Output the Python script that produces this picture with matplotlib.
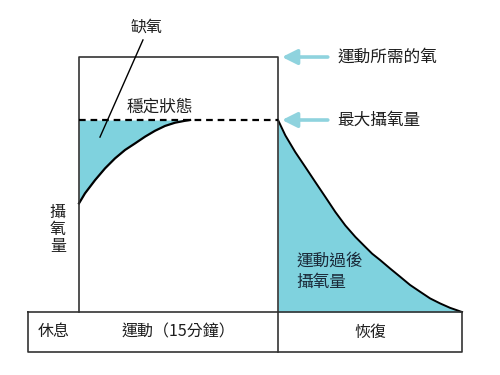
import numpy as np
import matplotlib
matplotlib.use("Agg")
import matplotlib.pyplot as plt

plt.rcParams['font.family'] = ['Noto Sans CJK TC', 'DejaVu Sans']

# time in minutes, oxygen uptake in % of max uptake
rise_t = [0.00, 0.45, 1.21, 1.96, 2.71, 3.47, 4.22, 4.97, 5.73, 6.48, 7.24, 7.99, 8.37]
rise_v = [56.6, 61.8, 68.7, 74.8, 80.0, 84.4, 87.8, 91.3, 94.4, 96.9, 98.6, 99.6, 100.0]

rec_t = [15.00, 15.55, 16.30, 17.06, 17.81, 18.57, 19.32, 20.07, 20.83, 21.58, 22.09,
         22.69, 23.44, 24.20, 24.95, 25.70, 26.46, 27.21, 27.96, 28.87]
rec_v = [100.0, 92.0, 83.3, 75.5, 67.7, 59.9, 52.1, 45.1, 39.1, 33.9, 30.4,
         27.1, 22.7, 18.4, 14.1, 10.6, 7.1, 4.5, 2.2, 0.0]

rest_start = -3.84
ex_start, ex_end = 0.0, 15.0
rec_end = 28.87
vo2max = 100.0
demand = 132.8
row_bottom = -20.8

phase_labels = ['休息', '運動（15分鐘）', '恢復']

fill_c = '#7fd2de'
arrow_c = '#8fd3de'
line_c = '#333333'
text_c = '#1e1e1e'

fig = plt.figure(figsize=(5, 3.75), dpi=100)
ax = fig.add_axes([0, 0, 1, 1])
ax.set_xlim(-5.955, 31.73)
ax.set_ylim(-32.8, 162.5)
ax.axis('off')

# oxygen deficit (between steady state line and rising curve)
ax.fill_between(rise_t, rise_v, vo2max, color=fill_c, lw=0)
ax.plot(rise_t, rise_v, color='black', lw=1.6)

# EPOC under recovery curve
ax.fill_between(rec_t, rec_v, 0, color=fill_c, lw=0)
ax.plot(rec_t, rec_v, color='black', lw=1.4)

# exercise demand box
ax.plot([ex_start, ex_start, ex_end, ex_end], [0, demand, demand, 0], color=line_c, lw=1.2)
ax.plot([ex_start, ex_end], [vo2max, vo2max], color='black', lw=1.6, ls=(0, (3, 2.2)))

# phase row at bottom
ax.plot([rest_start, rec_end, rec_end, rest_start, rest_start],
        [0, 0, row_bottom, row_bottom, 0], color=line_c, lw=1.2)
ax.plot([ex_end, ex_end], [0, row_bottom], color=line_c, lw=1.2)
mid_row = row_bottom / 2
centers = [(rest_start + ex_start) / 2, (ex_start + ex_end) / 2, (ex_end + rec_end) / 2]
for c, lab in zip(centers, phase_labels):
    ax.text(c, mid_row, lab, ha='center', va='center', fontsize=11.5, color=text_c)

# arrows on the right
for yv, lab in [(demand, '運動所需的氧'), (vo2max, '最大攝氧量')]:
    ax.annotate('', xy=(15.3, yv), xytext=(18.75, yv),
                arrowprops=dict(arrowstyle='-|>,head_length=0.9,head_width=0.45',
                                color=arrow_c, lw=2.6, shrinkA=0, shrinkB=0))
    ax.text(19.45, yv, lab, ha='left', va='center', fontsize=12, color=text_c)

# deficit label with leader line
ax.text(5.13, 148.5, '缺氧', ha='center', va='center', fontsize=11.5, color=text_c)
ax.plot([4.82, 1.58], [141.7, 91.1], color='black', lw=1.0)

ax.text(6.1, 106.5, '穩定狀態', ha='center', va='center', fontsize=12, color=text_c)

ax.text(-1.6, 43.0, '攝\n氧\n量', ha='center', va='center', fontsize=11.5,
        color=text_c, linespacing=1.0)

ax.text(16.4, 21.0, '運動過後\n攝氧量', ha='left', va='center', fontsize=12,
        color='#1b2b3a', linespacing=1.3)

fig.savefig('out.png', dpi=100)
